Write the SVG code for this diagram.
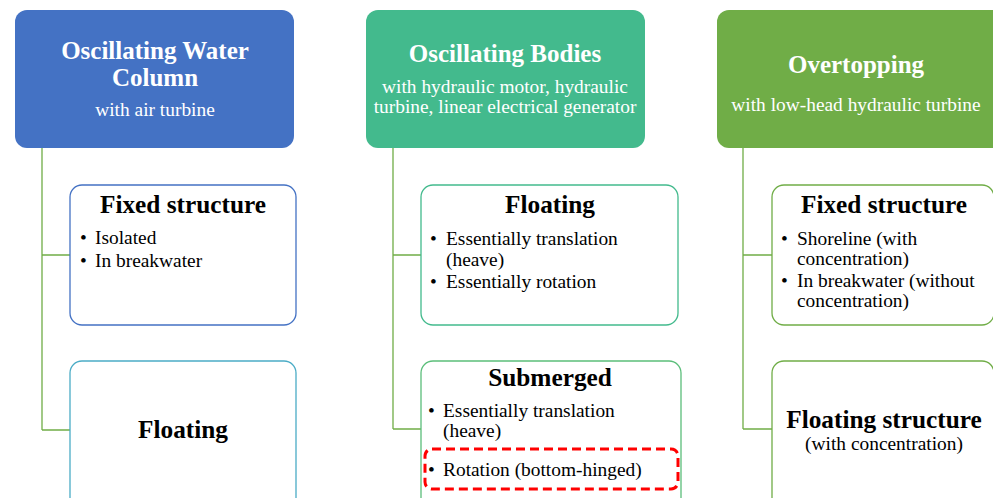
<svg xmlns="http://www.w3.org/2000/svg" width="993" height="498" viewBox="0 0 993 498">
<style>
.hd{stroke:none}
.ch{fill:#fff;stroke-width:1.3}
.t{font-family:"Liberation Serif","Times New Roman",serif}
.h1{font-size:25px;font-weight:bold;fill:#fff;text-anchor:middle}
.h2{font-size:19.4px;fill:#fff;text-anchor:middle}
.b1{font-size:25.3px;font-weight:bold;fill:#000;text-anchor:middle}
.b2{font-size:19.4px;fill:#000}
.c{fill:none;stroke:#70AD47;stroke-width:1.3}
</style>
<rect width="993" height="498" fill="#fff"/>
<g id="connectors">
<path class="c" d="M42,148 V430 M42,255 H70 M42,430 H70"/>
<path class="c" d="M393,148 V429 M393,255 H421 M393,429 H421"/>
<path class="c" d="M743,148 V429 M743,255 H772 M743,429 H772"/>
</g>
<g id="owc">
<rect class="hd" x="15" y="10" width="279" height="138" rx="12" fill="#4472C4"/>
<text class="t h1" x="155" y="59">Oscillating Water</text>
<text class="t h1" x="155" y="86">Column</text>
<text class="t h2" x="155" y="116">with air turbine</text>
</g>
<g id="owc-fixed">
<rect class="ch" x="70" y="185" width="226" height="140" rx="12" stroke="#4472C4"/>
<text class="t b1" x="183" y="213">Fixed structure</text>
<text class="t b2" x="80" y="244">•</text><text class="t b2" x="95" y="244">Isolated</text>
<text class="t b2" x="80" y="267">•</text><text class="t b2" x="95" y="267">In breakwater</text>
</g>
<g id="owc-floating">
<rect class="ch" x="70" y="361" width="226" height="150" rx="12" stroke="#4BACC6"/>
<text class="t b1" x="183" y="438">Floating</text>
</g>
<g id="ob">
<rect class="hd" x="366" y="10" width="279" height="138" rx="12" fill="#43BA8D"/>
<text class="t h1" x="505" y="62">Oscillating Bodies</text>
<text class="t h2" x="505" y="93">with hydraulic motor, hydraulic</text>
<text class="t h2" x="505" y="113">turbine, linear electrical generator</text>
</g>
<g id="ob-floating">
<rect class="ch" x="421" y="185" width="257" height="140" rx="12" stroke="#43BA8D"/>
<text class="t b1" x="550" y="213">Floating</text>
<text class="t b2" x="430" y="245">•</text><text class="t b2" x="446" y="245">Essentially translation</text>
<text class="t b2" x="446" y="266">(heave)</text>
<text class="t b2" x="430" y="288">•</text><text class="t b2" x="446" y="288">Essentially rotation</text>
</g>
<g id="ob-submerged">
<rect class="ch" x="421" y="361" width="260" height="150" rx="12" stroke="#5BBE7A"/>
<text class="t b1" x="550" y="386">Submerged</text>
<text class="t b2" x="428" y="417">•</text><text class="t b2" x="443" y="417">Essentially translation</text>
<text class="t b2" x="443" y="437">(heave)</text>
<text class="t b2" x="428" y="476">•</text><text class="t b2" x="443" y="476">Rotation (bottom-hinged)</text>
<rect x="425" y="449" width="253" height="40" rx="7" fill="none" stroke="#FF0000" stroke-width="3" stroke-dasharray="9,5"/>
</g>
<g id="ot">
<rect class="hd" x="717" y="10" width="290" height="138" rx="12" fill="#70AD47"/>
<text class="t h1" x="856" y="73">Overtopping</text>
<text class="t h2" x="856" y="111">with low-head hydraulic turbine</text>
</g>
<g id="ot-fixed">
<rect class="ch" x="772" y="185" width="222" height="140" rx="12" stroke="#70AD47"/>
<text class="t b1" x="884" y="213">Fixed structure</text>
<text class="t b2" x="781" y="245">•</text><text class="t b2" x="797" y="245">Shoreline (with</text>
<text class="t b2" x="797" y="265">concentration)</text>
<text class="t b2" x="781" y="287">•</text><text class="t b2" x="797" y="287">In breakwater (without</text>
<text class="t b2" x="797" y="307">concentration)</text>
</g>
<g id="ot-floating">
<rect class="ch" x="772" y="361" width="222" height="150" rx="12" stroke="#70AD47"/>
<text class="t b1" x="884" y="428">Floating structure</text>
<text class="t h2" x="884" y="450" style="fill:#000">(with concentration)</text>
</g>
</svg>
